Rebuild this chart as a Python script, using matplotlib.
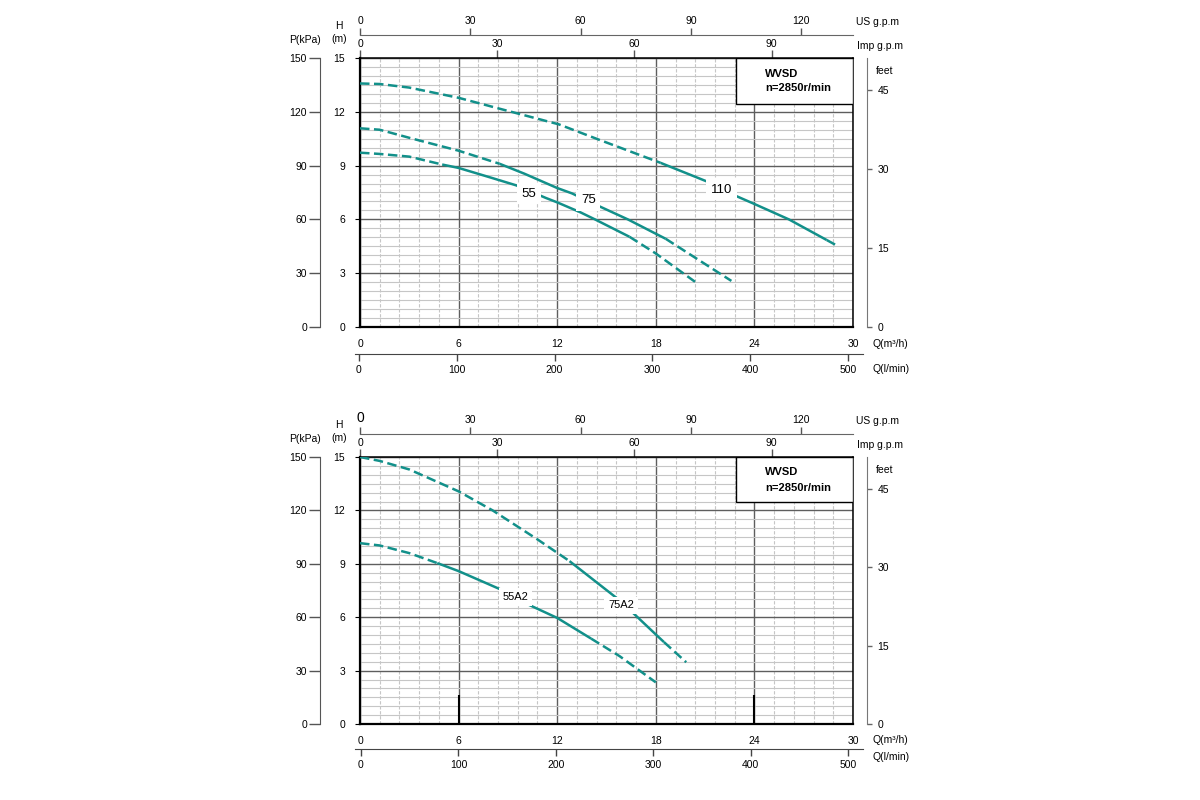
import matplotlib
matplotlib.use('Agg')
import matplotlib.pyplot as plt
from matplotlib.patches import Rectangle

plt.rcParams['font.family'] = ['Liberation Sans', 'DejaVu Sans']

# ---------------- data (Q in m3/h, H in m) ----------------
# top chart
q55_dash_a = [0, 1.2, 3.0, 5.0]
h55_dash_a = [9.72, 9.65, 9.5, 9.06]
q55_solid = [5.0, 6.0, 8.0, 9.5, 11.3, 12.0, 13.4, 14.3, 16.4]
h55_solid = [9.06, 8.87, 8.32, 7.9, 7.2, 6.95, 6.4, 6.0, 5.03]
q55_dash_b = [16.4, 18.0, 20.6]
h55_dash_b = [5.03, 4.1, 2.38]

q75_dash_a = [0, 1.2, 3.2, 6.0, 8.5]
h75_dash_a = [11.08, 11.0, 10.5, 9.83, 9.1]
q75_solid = [8.5, 10.0, 12.0, 12.9, 14.4, 16.3, 18.0, 18.6]
h75_solid = [9.1, 8.55, 7.75, 7.45, 6.8, 6.0, 5.2, 4.92]
q75_dash_b = [18.6, 20.25, 22.6]
h75_dash_b = [4.92, 3.95, 2.57]

q110_dash_a = [0, 1.2, 3.0, 6.0, 9.0, 12.1, 14.5, 18.3]
h110_dash_a = [13.58, 13.55, 13.35, 12.78, 12.05, 11.3, 10.46, 9.15]
q110_solid = [18.3, 21.15, 22.9, 24.0, 26.1, 28.4]
h110_solid = [9.15, 8.1, 7.3, 6.86, 6.0, 4.85]
q110_dash_b = [28.4, 29.1]
h110_dash_b = [4.85, 4.5]

# bottom chart
q55a2_dash_a = [0, 1.2, 3.0, 4.7]
h55a2_dash_a = [10.16, 10.03, 9.6, 9.04]
q55a2_solid = [4.7, 6.0, 8.48, 10.1, 12.0, 14.06]
h55a2_solid = [9.04, 8.59, 7.59, 6.77, 5.96, 4.8]
q55a2_dash_b = [14.06, 15.8, 18.0]
h55a2_dash_b = [4.8, 3.81, 2.34]

q75a2_dash_a = [0, 1.2, 3.0, 6.0, 8.07, 10.8, 12.0, 12.75]
h75a2_dash_a = [15.0, 14.78, 14.3, 13.07, 12.0, 10.37, 9.62, 9.15]
q75a2_solid = [12.75, 15.6, 16.5, 18.0, 18.5]
h75a2_solid = [9.15, 7.09, 6.34, 5.03, 4.6]
q75a2_dash_b = [18.5, 19.85]
h75a2_dash_b = [4.6, 3.47]

top_labels = ['55', '75', '110']
top_label_q = [10.29, 13.9, 22.0]
top_label_h = [7.43, 7.06, 7.66]
bot_labels = ['55A2', '75A2']
bot_label_q = [9.47, 15.88]
bot_label_h = [7.13, 6.66]

q_ticks = [0, 6, 12, 18, 24, 30]
h_ticks = [0, 3, 6, 9, 12, 15]
p_ticks = [0, 30, 60, 90, 120, 150]
ft_ticks = [0, 15, 30, 45]
us_ticks = [0, 30, 60, 90, 120]
imp_ticks = [0, 30, 60, 90]
lpm_ticks = [0, 100, 200, 300, 400, 500]
mark_q = [6, 24]      # short black marks in the bottom chart
mark_h = 1.65

# scale factors
US_F = 4.47
IMP_F = 3.593
FT_F = 3.41
KPA_F = 10.0

W, Hh = 1200, 800
COL = '#12908a'
FS = 7.5
fig = plt.figure(figsize=(12, 8), dpi=100)


def ftext(x, y, s, **kw):
    kw.setdefault('fontsize', FS)
    kw.setdefault('va', 'center')
    fig.text(x / W, 1 - y / Hh, s, **kw)


def panel(top, bot, curves, labels, lab_fs, lpm_y, lpm0, lpm500, us_y,
          box_bot, t_wvsd, t_n, marks=False):
    L, R = 360, 853
    ax = fig.add_axes([L / W, 1 - bot / Hh, (R - L) / W, (bot - top) / Hh])
    ax.set_xlim(0, 30)
    ax.set_ylim(0, 15)
    ax.set_xticks(q_ticks)
    ax.set_yticks(h_ticks)
    ax.set_xticks([i * 1.2 for i in range(26)], minor=True)
    ax.set_yticks([i * 0.5 for i in range(31)], minor=True)
    ax.grid(which='minor', axis='x', color='#c6c6c6', lw=0.8, ls=(0, (3, 1.5)))
    ax.grid(which='minor', axis='y', color='#c6c6c6', lw=0.8)
    ax.grid(which='major', color='#5e5e5e', lw=1.0)
    ax.set_axisbelow(True)
    ax.tick_params(which='minor', length=0)
    ax.tick_params(axis='x', which='major', length=0, pad=8.5, labelsize=FS)
    ax.tick_params(axis='y', which='major', length=3.6, pad=7, labelsize=FS)
    for s in ['left', 'bottom']:
        ax.spines[s].set_linewidth(1.6)
    for s in ['top', 'right']:
        ax.spines[s].set_linewidth(1.1)

    for (q, h, dashed) in curves:
        ax.plot(q, h, color=COL, lw=1.8, zorder=4,
                ls=(0, (3.8, 1.8)) if dashed else '-', solid_capstyle='butt')
    for (s, q, h) in labels:
        ax.text(q, h, s, fontsize=lab_fs, ha='center', va='center', zorder=6,
                bbox=dict(boxstyle='square,pad=0.35', fc='white', ec='none'))

    if marks:
        ax.vlines(mark_q, 0, mark_h, color='black', lw=1.5, zorder=5)

    # WVSD box
    bb = (bot - box_bot) / (bot - top)
    bl = (736 - L) / (R - L)
    ax.add_patch(Rectangle((bl, bb), 1 - bl, 1 - bb, transform=ax.transAxes,
                           fc='white', ec='black', lw=1.0, zorder=5))
    ax.text(0.8215, (bot - t_wvsd) / (bot - top), 'WVSD', transform=ax.transAxes,
            fontsize=8, fontweight='bold', va='center', ha='left', zorder=6)
    ax.text(0.8215, (bot - t_n) / (bot - top), 'n=2850r/min', transform=ax.transAxes,
            fontsize=8, fontweight='bold', va='center', ha='left', zorder=6)

    hpx = bot - top
    # P(kPa) axis
    pa = ax.secondary_yaxis((320 - L) / (R - L),
                            functions=(lambda h: h * KPA_F, lambda p: p / KPA_F))
    pa.set_yticks(p_ticks)
    pa.tick_params(length=7.9, pad=1.5, width=1.0, labelsize=FS, color='#555555')
    pa.spines['left'].set_color('#555555')
    # feet axis
    fa = ax.secondary_yaxis((866.7 - L) / (R - L),
                            functions=(lambda h: h * FT_F, lambda f: f / FT_F))
    fa.set_yticks(ft_ticks)
    fa.tick_params(length=3.8, pad=4, width=1.0, labelsize=FS, color='#666666')
    fa.spines['right'].set_color('#777777')
    # US g.p.m axis
    ua = ax.secondary_xaxis((bot - us_y) / hpx,
                            functions=(lambda q: q * US_F, lambda g: g / US_F))
    ua.set_xticks(us_ticks)
    ua.tick_params(length=5, pad=1.5, width=1.0, labelsize=FS, color='#555555')
    ua.spines['top'].set_color('#666666')
    # Imp g.p.m axis
    ia = ax.secondary_xaxis('top',
                            functions=(lambda q: q * IMP_F, lambda g: g / IMP_F))
    ia.set_xticks(imp_ticks)
    ia.tick_params(length=5.5, pad=1.0, width=1.0, labelsize=FS, color='#555555')
    # l/min axis
    k = 500.0 / (lpm500 - lpm0)
    la = fig.add_axes([355 / W, 1 - lpm_y / Hh, (863 - 355) / W, 0.0001])
    la.set_xlim((355 - lpm0) * k, (863 - lpm0) * k)
    la.set_yticks([])
    la.set_xticks(lpm_ticks)
    la.patch.set_visible(False)
    for s in ['top', 'left', 'right']:
        la.spines[s].set_visible(False)
    la.spines['bottom'].set_color('#444444')
    la.tick_params(length=5, pad=2.5, width=1.0, labelsize=FS, color='#444444')
    return ua


curves_top = [
    (q55_dash_a, h55_dash_a, True), (q55_solid, h55_solid, False), (q55_dash_b, h55_dash_b, True),
    (q75_dash_a, h75_dash_a, True), (q75_solid, h75_solid, False), (q75_dash_b, h75_dash_b, True),
    (q110_dash_a, h110_dash_a, True), (q110_solid, h110_solid, False), (q110_dash_b, h110_dash_b, True),
]
curves_bot = [
    (q55a2_dash_a, h55a2_dash_a, True), (q55a2_solid, h55a2_solid, False), (q55a2_dash_b, h55a2_dash_b, True),
    (q75a2_dash_a, h75a2_dash_a, True), (q75a2_solid, h75a2_solid, False), (q75a2_dash_b, h75a2_dash_b, True),
]

panel(58, 327, curves_top, list(zip(top_labels, top_label_q, top_label_h)), 9.5,
      354.3, 359, 848, 35, 104, 74, 88)
ua_b = panel(457, 724, curves_bot, list(zip(bot_labels, bot_label_q, bot_label_h)), 8,
             749.3, 361, 848, 434.3, 502, 472, 488, marks=True)

# axis titles
for dy, yq, ylm in [(0, 344, 369), (399, 740, 757)]:
    ftext(305, 40 + dy, 'P(kPa)', ha='center')
    ftext(339, 26 + dy, 'H', ha='center')
    ftext(339, 39 + dy, '(m)', ha='center')
    ftext(856, 21.7 + dy, 'US g.p.m', ha='left')
    ftext(856.7, 46 + dy, 'Imp g.p.m', ha='left')
    ftext(885, 71 + dy, 'feet', ha='center')
    ftext(872.7, yq, 'Q(m³/h)', ha='left')
    ftext(872.7, ylm, 'Q(l/min)', ha='left')

fig.canvas.draw()
t0 = ua_b.xaxis.get_major_ticks()[0]
t0.label1.set_fontsize(10)
t0.label2.set_fontsize(10)

fig.savefig('out.png', dpi=100)
